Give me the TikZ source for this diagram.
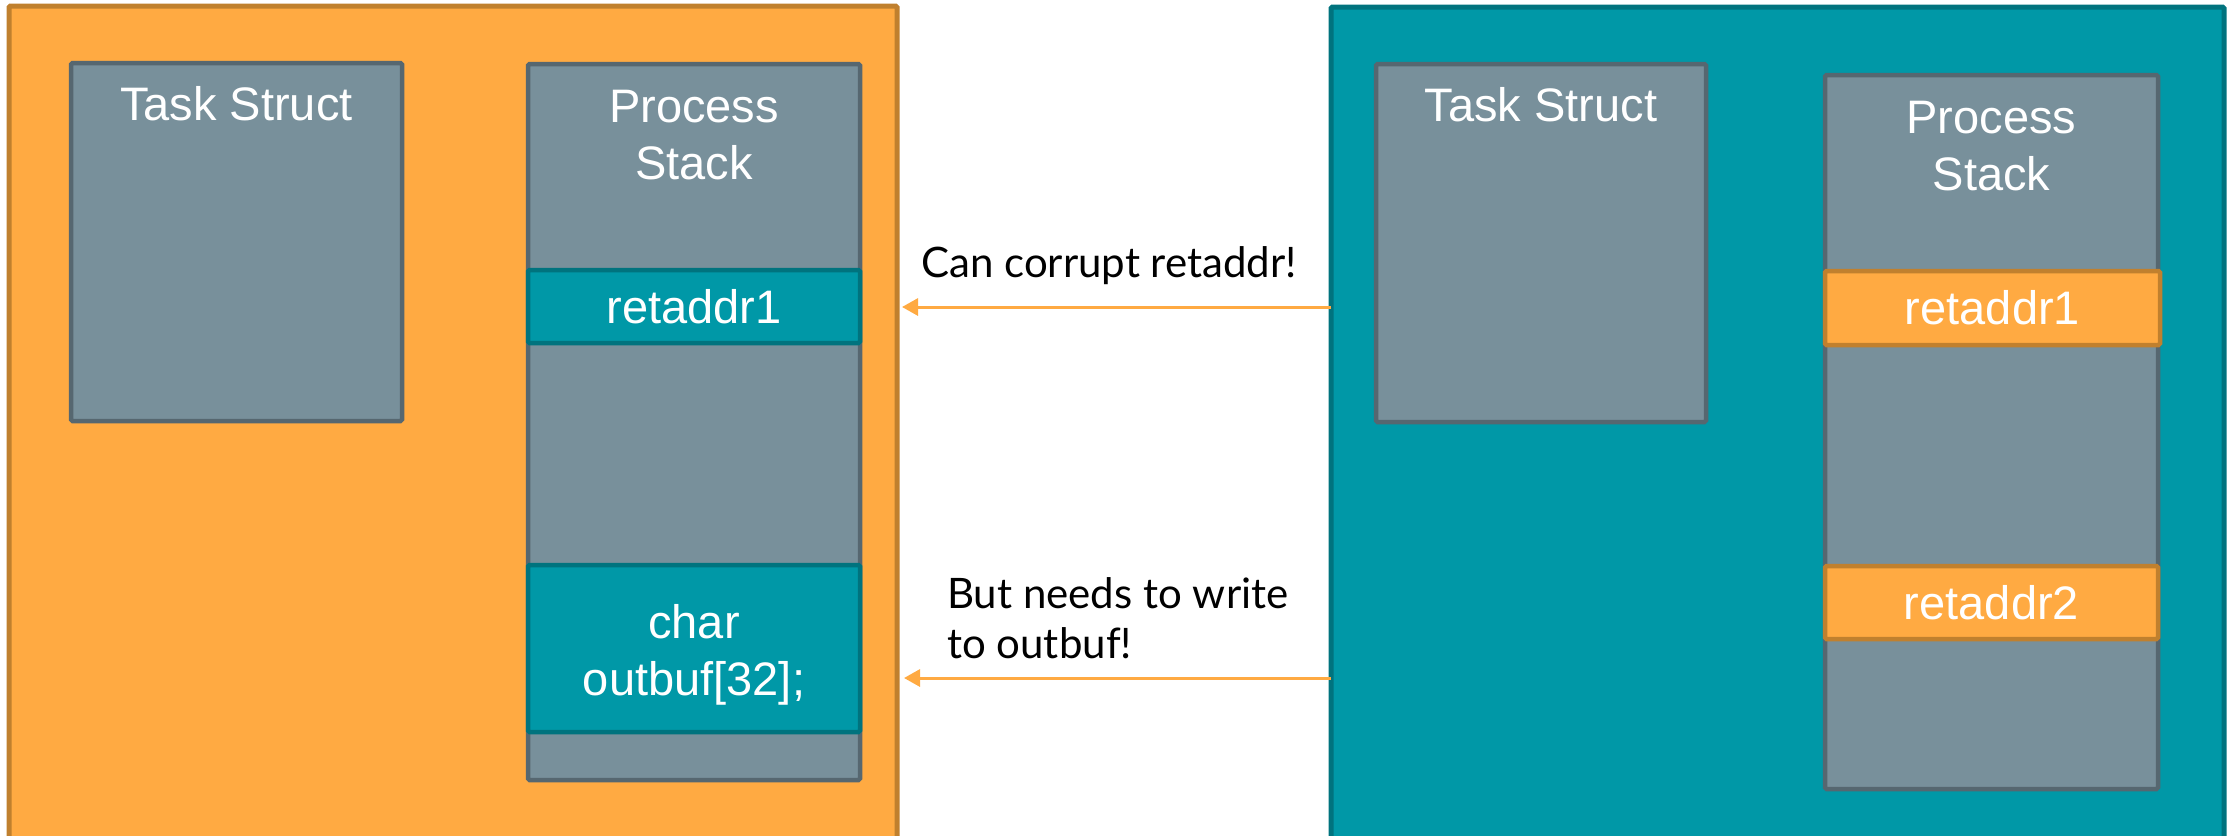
\documentclass[tikz,border=0pt]{standalone}
\usepackage{fontspec}
\setmainfont{Liberation Sans}
\newfontfamily\latofont{Lato}
\usetikzlibrary{arrows.meta}

\definecolor{orfill}{HTML}{FFAA42}
\definecolor{oredge}{HTML}{C0802E}
\definecolor{tlfill}{HTML}{0098A7}
\definecolor{tledge}{HTML}{00737E}
\definecolor{gyfill}{HTML}{78909B}
\definecolor{gyedge}{HTML}{566770}

\tikzset{
  region/.style={line width=5pt, rounded corners=1.5pt},
  orregion/.style={region, draw=oredge, fill=orfill},
  tlregion/.style={region, draw=tledge, fill=tlfill},
  memblock/.style={draw=gyedge, fill=gyfill, line width=4.5pt, rounded corners=1.5pt},
  orslot/.style={draw=oredge, fill=orfill, line width=4.5pt, rounded corners=1.5pt},
  tlslot/.style={draw=tledge, fill=tlfill, line width=4.5pt, rounded corners=1.5pt},
  boxtext/.style={text=white, font=\fontsize{47}{57}\selectfont, align=center, inner sep=0pt},
  note/.style={text=black, font=\latofont\fontsize{42}{50}\selectfont, align=left, inner sep=0pt},
  leak/.style={draw=orfill, line width=3pt, -{Triangle[length=16pt, width=17pt]}}
}

\begin{document}
\begin{tikzpicture}[x=1pt, y=-1pt]
\useasboundingbox (0,0) rectangle (2229,835);
\clip (0,0) rectangle (2229,835);

% the two process regions
\path[orregion] (9,6) rectangle (897,860);
\path[tlregion] (1331,7) rectangle (2224,860);
\coordinate (orR) at (897,0);
\coordinate (tlL) at (1331,0);

% left process
\path[memblock] (71,63) rectangle (402,421);
\node[boxtext, anchor=base] (tsL) at (236.5,120) {Task Struct};
\path[memblock] (528,64) rectangle (860,780);
\node[boxtext, anchor=base] (psL) at (694,179) {Process\\Stack};
\path[tlslot] (528,270) rectangle (860,343);
\node[boxtext] (raL) at (694,306.5) {retaddr1};
\path[tlslot] (528,565) rectangle (860,732);
\node[boxtext, anchor=base] (buf) at (694,695) {char\\outbuf[32];};

% right process
\path[memblock] (1376,64) rectangle (1706,422);
\node[boxtext, anchor=base] (tsR) at (1541,121) {Task Struct};
\path[memblock] (1825,75) rectangle (2158,789);
\node[boxtext, anchor=base] (psR) at (1991.5,190) {Process\\Stack};
\path[orslot] (1825,271) rectangle (2160,345);
\node[boxtext] (raR1) at (1992.5,308) {retaddr1};
\path[orslot] (1825,566) rectangle (2158,639);
\node[boxtext] (raR2) at (1991.5,602.5) {retaddr2};

% attacks across the boundary
\coordinate (a1s) at (tlL |- 0,307);
\coordinate (a1e) at (orR |- 0,307);
\coordinate (a2s) at (tlL |- 0,678);
\coordinate (a2e) at (orR |- 0,678);
\draw[leak] (a1s) -- ([xshift=5pt]a1e);
\draw[leak] (a2s) -- ([xshift=7pt]a2e);

\node[note, anchor=base west] (n1) at (921,277) {Can corrupt retaddr!};
\node[note, anchor=base west] (n2) at (947,658) {But needs to write\\to outbuf!};
\end{tikzpicture}
\end{document}
